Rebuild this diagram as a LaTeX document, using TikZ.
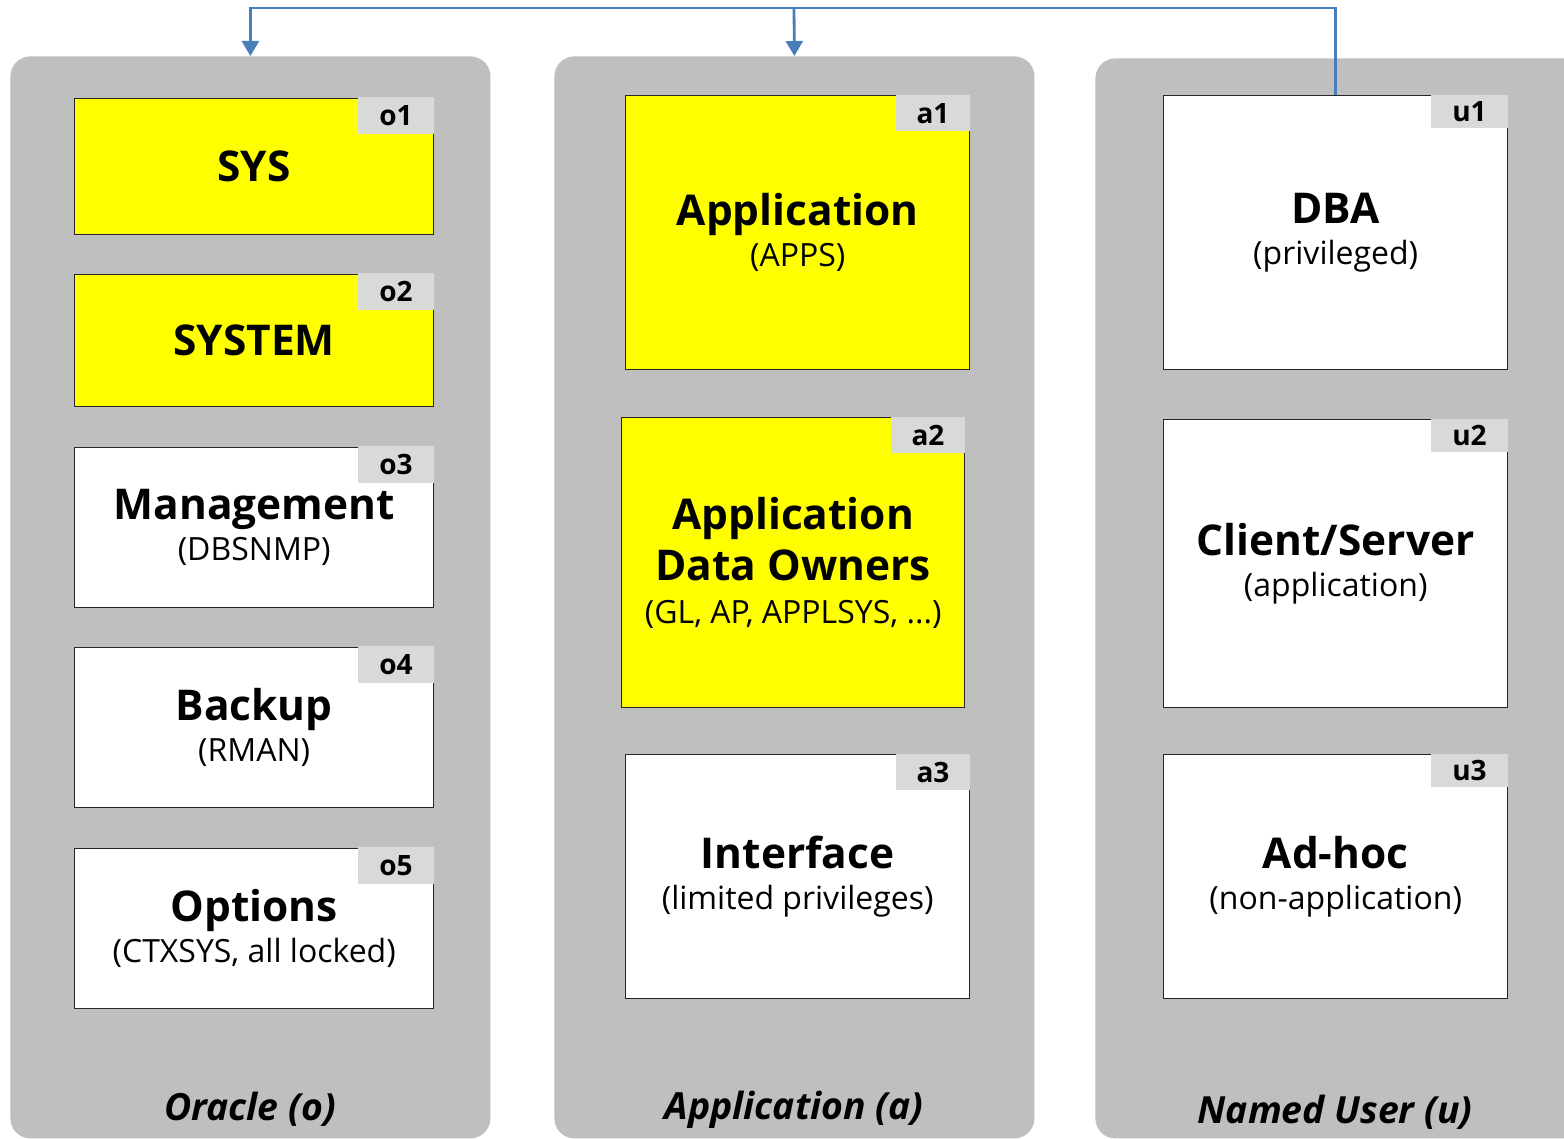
\documentclass[tikz,border=0pt]{standalone}
\usepackage{fontspec}
\setmainfont{Open Sans}
\usetikzlibrary{arrows.meta,positioning}
\definecolor{panelgray}{RGB}{191,191,191}
\definecolor{tabgray}{RGB}{217,217,217}
\definecolor{linkblue}{RGB}{74,126,187}
\definecolor{roleyellow}{RGB}{255,255,0}
\newcommand{\ttl}[1]{{\fontsize{21.2}{25.5}\selectfont\bfseries #1}}
\newcommand{\sbt}[1]{{\fontsize{16}{19}\selectfont #1}}

\begin{document}
\begin{tikzpicture}[x=0.5pt,y=-0.5pt,
  panel/.style={rectangle,rounded corners=10pt,fill=panelgray,anchor=north west,inner sep=0},
  role/.style={rectangle,draw=black!85,line width=0.7pt,anchor=north west,align=center,inner sep=0,
    font=\fontsize{21.2}{25.5}\selectfont},
  yrole/.style={role,fill=roleyellow},
  wrole/.style={role,fill=white},
  tab/.style={rectangle,fill=tabgray,anchor=north east,inner sep=0,font=\fontsize{14}{16}\selectfont\bfseries},
  grp/.style={font=\fontsize{18.7}{22}\selectfont\bfseries\itshape},
  link/.style={draw=linkblue,line width=1.4pt,-{Triangle[length=7.5pt,width=8.5pt]}}]
  \useasboundingbox (0,0) rectangle (1564,1139);
  \clip (0,0) rectangle (1564,1139);
  % groups
  \node (opanel) [panel,minimum width=240pt,minimum height=541pt] at (10,56) {};
  \node (apanel) [panel,minimum width=240pt,minimum height=541pt] at (554,56) {};
  \node (upanel) [panel,minimum width=260pt,minimum height=540pt] at (1095,58) {};
  \node (olabel) [grp] at (250,1109) {Oracle (o)};
  \node (alabel) [grp] at (794,1110) {Application (a)};
  \node (ulabel) [grp] at (1335,1112) {Named User (u)};
  % oracle accounts
  \node (o1) [yrole,minimum width=179.5pt,minimum height=68pt] at (74,98) {\ttl{SYS}};
  \node (o2) [yrole,minimum width=179.5pt,minimum height=66pt] at (74,274) {\ttl{SYSTEM}};
  \node (o3) [wrole,minimum width=179.5pt,minimum height=80pt] at (74,447) {\ttl{Management}\\[-5pt]\sbt{(DBSNMP)}};
  \node (o4) [wrole,minimum width=179.5pt,minimum height=80pt] at (74,647) {\ttl{Backup}\\[-5pt]\sbt{(RMAN)}};
  \node (o5) [wrole,minimum width=179.5pt,minimum height=80pt] at (74,848) {\ttl{Options}\\[-5pt]\sbt{(CTXSYS, all locked)}};
  % application accounts
  \node (a1) [yrole,minimum width=172pt,minimum height=137pt] at (625,95) {\ttl{Application}\\[-5pt]\sbt{(APPS)}};
  \node (a2) [yrole,minimum width=171.5pt,minimum height=145pt] at (621,417) {\ttl{Application}\\\ttl{Data Owners}\\[-4pt]\sbt{(GL, AP, APPLSYS, ...)}};
  \node (a3) [wrole,minimum width=172pt,minimum height=122pt] at (625,754) {\ttl{Interface}\\[-5pt]\sbt{(limited privileges)}};
  % named users
  \node (u1) [wrole,minimum width=172pt,minimum height=137pt] at (1163,95) {\ttl{DBA}\\[-5pt]\sbt{(privileged)}};
  \node (u2) [wrole,minimum width=172pt,minimum height=144pt] at (1163,419) {\ttl{Client/Server}\\[-5pt]\sbt{(application)}};
  \node (u3) [wrole,minimum width=172pt,minimum height=122pt] at (1163,754) {\ttl{Ad-hoc}\\[-5pt]\sbt{(non-application)}};
  % tabs
  \foreach \b in {o1,o2,o3,o4,o5}
    \node (\b tab) [tab,minimum width=38pt,minimum height=18.5pt] at ([yshift=0.5pt]\b.north east) {\b};
  \foreach \b in {a1,a2,a3}
    \node (\b tab) [tab,minimum width=37pt,minimum height=18pt] at (\b.north east) {\b};
  \foreach \b in {u1,u2,u3}
    \node (\b tab) [tab,minimum width=38.5pt,minimum height=16.5pt] at (\b.north east) {\b};
  % links
  \coordinate (bus) at (794,8);
  \draw[link] (u1.north) |- (bus) -| (opanel.north);
  \draw[link] (bus) -- (apanel.north);
\end{tikzpicture}
\end{document}
